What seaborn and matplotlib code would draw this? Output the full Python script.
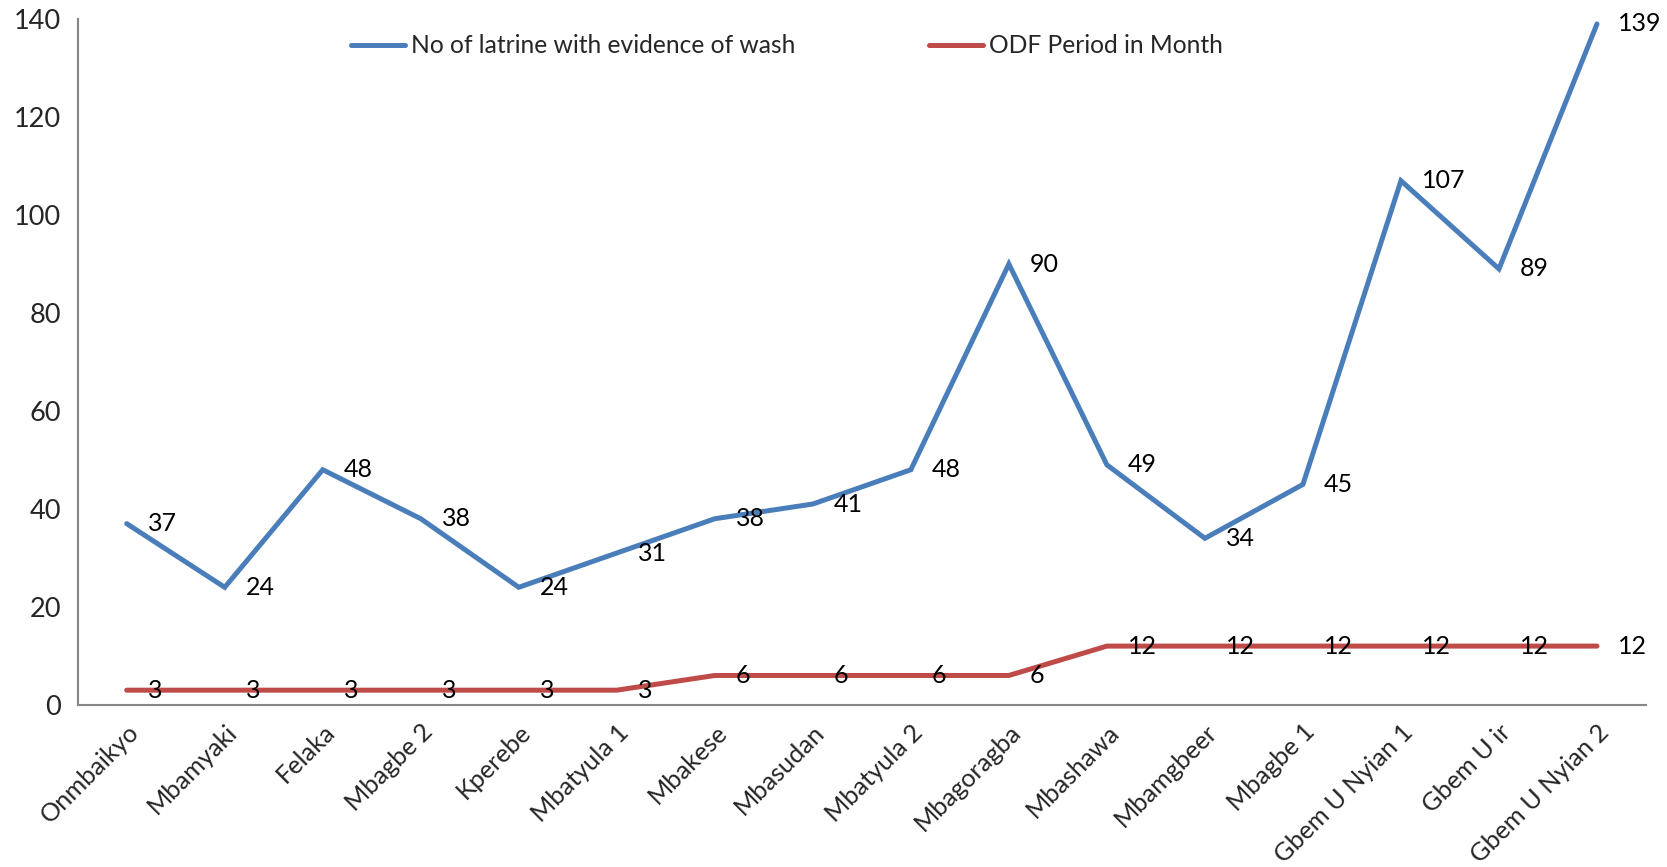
import pandas as pd
import matplotlib
matplotlib.use("Agg")
import matplotlib.pyplot as plt
import seaborn as sns
from matplotlib.ticker import FixedLocator, MultipleLocator

# data
villages = ["Onmbaikyo", "Mbamyaki", "Felaka", "Mbagbe 2", "Kperebe", "Mbatyula 1",
            "Mbakese", "Mbasudan", "Mbatyula 2", "Mbagoragba", "Mbashawa", "Mbamgbeer",
            "Mbagbe 1", "Gbem U Nyian 1", "Gbem U ir", "Gbem U Nyian 2"]
latrines_wash = [37, 24, 48, 38, 24, 31, 38, 41, 48, 90, 49, 34, 45, 107, 89, 139]
odf_months = [3, 3, 3, 3, 3, 3, 6, 6, 6, 6, 12, 12, 12, 12, 12, 12]

series_names = ["No of latrine with evidence of wash", "ODF Period in Month"]
colors = ["#4A7EBB", "#BE4B48"]

df = pd.DataFrame({
    "Village": villages * 2,
    "Value": latrines_wash + odf_months,
    "Series": [series_names[0]] * len(villages) + [series_names[1]] * len(villages),
})

sns.set_style("white")
plt.rcParams["font.family"] = ["Lato", "DejaVu Sans"]

fig = plt.figure(figsize=(16.67, 8.67), dpi=100)
ax = fig.add_axes([0.0466, 0.187, 0.9408, 0.791])

sns.lineplot(data=df, x="Village", y="Value", hue="Series", palette=colors,
             sort=False, linewidth=3.6, ax=ax, legend=True)
for line in ax.get_lines():
    line.set_solid_capstyle("round")
    line.set_solid_joinstyle("miter")

# data labels to the right of each point
for i, v in enumerate(latrines_wash):
    ax.annotate(str(v), (i, v), xytext=(15, 0), textcoords="offset points",
                ha="left", va="center", fontsize=18, color="black")
for i, v in enumerate(odf_months):
    ax.annotate(str(v), (i, v), xytext=(15, 0), textcoords="offset points",
                ha="left", va="center", fontsize=18, color="black")

ax.set_xlim(-0.5, len(villages) - 0.5)
ax.set_ylim(0, 140)
ax.yaxis.set_major_locator(MultipleLocator(20))
ax.yaxis.set_minor_locator(MultipleLocator(1))
ax.xaxis.set_minor_locator(FixedLocator([i - 0.5 for i in range(len(villages) + 1)]))

ax.set_xlabel("")
ax.set_ylabel("")

for s in ["top", "right"]:
    ax.spines[s].set_visible(False)
for s in ["left", "bottom"]:
    ax.spines[s].set_color("#868686")
    ax.spines[s].set_linewidth(1.5)

ax.tick_params(axis="y", which="major", direction="out", length=6, width=1.5,
               color="#868686", labelsize=19.5, pad=6)
ax.tick_params(axis="y", which="minor", direction="in", length=3.5, width=1.2,
               color="#868686")
ax.tick_params(axis="x", which="major", length=0, labelsize=18.2, pad=11)
ax.tick_params(axis="x", which="minor", direction="out", length=6, width=1.5,
               color="#868686")
plt.setp(ax.get_xticklabels(), rotation=45, ha="right", rotation_mode="anchor")

handles, labels = ax.get_legend_handles_labels()
ax.legend(handles, labels, ncol=2, frameon=False, fontsize=17.7,
          loc="center left", bbox_to_anchor=(0.197, 0.947),
          bbox_transform=fig.transFigure, handlelength=2.2, handletextpad=0.25,
          columnspacing=5.45)

fig.savefig("out.png", dpi=100)
